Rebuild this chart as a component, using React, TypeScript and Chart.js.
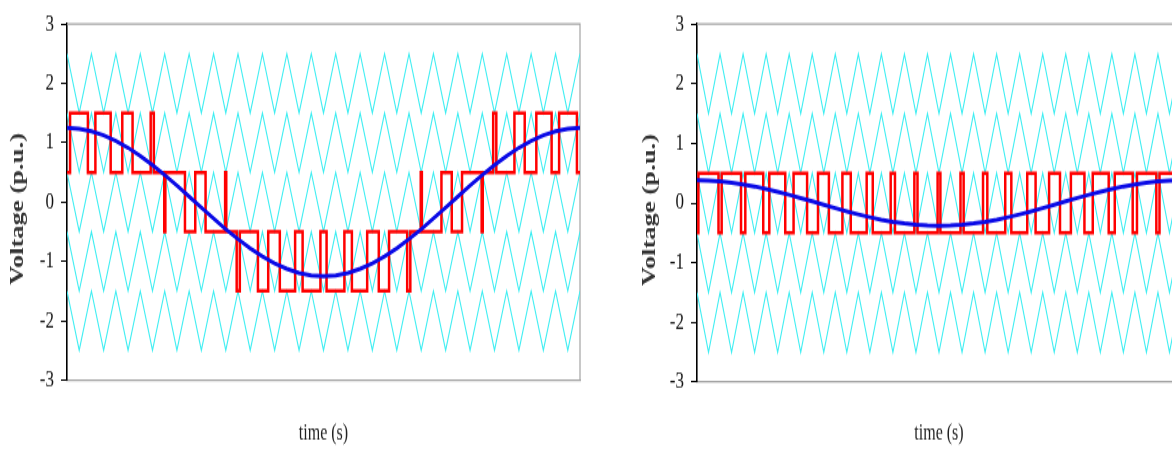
import React, { useEffect, useRef } from "react";
import { Chart, registerables } from "chart.js";

Chart.register(...registerables);

// ---------- data (time axis in carrier periods, 21 per panel) ----------
const carrierTimes = [
  0, 0.5, 1, 1.5, 2, 2.5, 3, 3.5, 4, 4.5, 5, 5.5, 6, 6.5, 7, 7.5, 8, 8.5, 9, 9.5, 10,
  10.5, 11, 11.5, 12, 12.5, 13, 13.5, 14, 14.5, 15, 15.5, 16, 16.5, 17, 17.5, 18, 18.5,
  19, 19.5, 20, 20.5, 21,
];
// peak of each level-shifted triangular carrier (valley = peak - 1)
const carrierPeaks = [2.5, 1.5, 0.5, -0.5, -1.5];

// reference (blue) samples at carrierTimes
const leftReference = [
  1.25, 1.236, 1.194, 1.126, 1.033, 0.916, 0.779, 0.625, 0.457, 0.278, 0.093, -0.093,
  -0.278, -0.457, -0.625, -0.779, -0.916, -1.033, -1.126, -1.194, -1.236, -1.25, -1.236,
  -1.194, -1.126, -1.033, -0.916, -0.779, -0.625, -0.457, -0.278, -0.093, 0.093, 0.278,
  0.457, 0.625, 0.779, 0.916, 1.033, 1.126, 1.194, 1.236, 1.25,
];
const rightReference = [
  0.38, 0.376, 0.363, 0.342, 0.314, 0.279, 0.237, 0.19, 0.139, 0.085, 0.028, -0.028,
  -0.085, -0.139, -0.19, -0.237, -0.279, -0.314, -0.342, -0.363, -0.376, -0.38, -0.376,
  -0.363, -0.342, -0.314, -0.279, -0.237, -0.19, -0.139, -0.085, -0.028, 0.028, 0.085,
  0.139, 0.19, 0.237, 0.279, 0.314, 0.342, 0.363, 0.376, 0.38,
];

// multilevel output (red): switching instants and level held after each
const leftSwitchTimes = [
  0, 0.126, 0.855, 1.162, 1.788, 2.263, 2.684, 3.426, 3.554, 3.982, 4.026, 4.829, 5.25,
  5.672, 6.473, 6.519, 6.946, 7.074, 7.816, 8.237, 8.712, 9.338, 9.645, 10.374, 10.626,
  11.355, 11.662, 12.288, 12.763, 13.184, 13.926, 14.054, 14.481, 14.527, 15.328, 15.75,
  16.171, 16.974, 17.018, 17.446, 17.574, 18.316, 18.737, 19.212, 19.838, 20.145, 20.874,
];
const leftLevels = [
  0.5, 1.5, 0.5, 1.5, 0.5, 1.5, 0.5, 1.5, 0.5, -0.5, 0.5, -0.5, 0.5, -0.5, 0.5, -0.5,
  -1.5, -0.5, -1.5, -0.5, -1.5, -0.5, -1.5, -0.5, -1.5, -0.5, -1.5, -0.5, -1.5, -0.5,
  -1.5, -0.5, 0.5, -0.5, 0.5, -0.5, 0.5, -0.5, 0.5, 1.5, 0.5, 1.5, 0.5, 1.5, 0.5, 1.5, 0.5,
];
const rightSwitchTimes = [
  0, 0.06, 0.933, 1.07, 1.91, 2.096, 2.874, 3.137, 3.829, 4.19, 4.777, 5.25, 5.723, 6.309,
  6.672, 7.362, 7.626, 8.404, 8.59, 9.431, 9.567, 10.44, 10.56, 11.433, 11.569, 12.41,
  12.596, 13.374, 13.638, 14.328, 14.691, 15.277, 15.75, 16.223, 16.81, 17.171, 17.863,
  18.126, 18.904, 19.09, 19.93, 20.067, 20.94,
];
const rightLevels = [
  -0.5, 0.5, -0.5, 0.5, -0.5, 0.5, -0.5, 0.5, -0.5, 0.5, -0.5, 0.5, -0.5, 0.5, -0.5, 0.5,
  -0.5, 0.5, -0.5, 0.5, -0.5, 0.5, -0.5, 0.5, -0.5, 0.5, -0.5, 0.5, -0.5, 0.5, -0.5, 0.5,
  -0.5, 0.5, -0.5, 0.5, -0.5, 0.5, -0.5, 0.5, -0.5, 0.5, -0.5,
];

const yTickValues = [3, 2, 1, 0, -1, -2, -3];
const xTitle = "time (s)";
const yTitle = "Voltage (p.u.)";
const timeEnd = 21;

// ---------- styling / layout ----------
const STRETCH = 1.4; // the source picture is stretched vertically
const CANVAS_H = 321;
const SERIF = "'Liberation Serif', 'Times New Roman', serif";
const CARRIER = "rgb(64, 238, 242)";
const RED = "#ff0000";
const BLUE = "#0a0ae6";
const FRAME = "#a4a4a4";

type PanelSpec = {
  left: number;
  width: number;
  plotLeft: number;
  plotRight: number;
  plotTop: number;
  plotBottom: number;
  titleX: number;
  titleY: number;
  reference: number[];
  switches: number[];
  levels: number[];
};

const panels: PanelSpec[] = [
  {
    left: 0, width: 630, plotLeft: 67, plotRight: 580, plotTop: 20, plotBottom: 380,
    titleX: 18.5, titleY: 209, reference: leftReference, switches: leftSwitchTimes, levels: leftLevels,
  },
  {
    left: 630, width: 600, plotLeft: 67, plotRight: 551, plotTop: 18, plotBottom: 382,
    titleX: 20, titleY: 210, reference: rightReference, switches: rightSwitchTimes, levels: rightLevels,
  },
];

function PanelChart({ p }: { p: PanelSpec }) {
  const ref = useRef<HTMLCanvasElement>(null);
  useEffect(() => {
    if (!ref.current) return;
    const carrierSets = carrierPeaks.map((peak) => ({
      data: carrierTimes.map((t, i) => ({ x: t, y: i % 2 === 0 ? peak : peak - 1 })),
      borderColor: CARRIER,
      borderWidth: 1.1,
      pointRadius: 0,
      order: 3,
    }));
    const redData = p.switches.map((t, i) => ({ x: t, y: p.levels[i] }));
    redData.push({ x: timeEnd, y: p.levels[p.levels.length - 1] });
    const blueData = carrierTimes.map((t, i) => ({ x: t, y: p.reference[i] }));

    const framePlugin = {
      id: "frame",
      beforeDatasetsDraw(chart: any) {
        const { ctx, chartArea: a } = chart;
        ctx.save();
        ctx.strokeStyle = FRAME;
        ctx.lineWidth = 1.2;
        ctx.beginPath();
        ctx.moveTo(a.left, a.top);
        ctx.lineTo(a.right, a.top);
        ctx.lineTo(a.right, a.bottom);
        ctx.stroke();
        ctx.restore();
      },
    };
    const yTitlePlugin = {
      id: "ytitle",
      afterDraw(chart: any) {
        const { ctx } = chart;
        ctx.save();
        ctx.translate(p.titleX, p.titleY / STRETCH);
        ctx.rotate(-Math.PI / 2);
        ctx.font = `bold 19px ${SERIF}`;
        ctx.fillStyle = "#333";
        ctx.textAlign = "center";
        ctx.textBaseline = "middle";
        ctx.fillText(yTitle, 0, 0);
        ctx.restore();
      },
    };

    const chart = new Chart(ref.current, {
      type: "line",
      data: {
        datasets: [
          {
            data: blueData,
            borderColor: BLUE,
            borderWidth: 3,
            pointRadius: 0,
            order: 0,
          },
          {
            data: redData,
            borderColor: RED,
            borderWidth: 2.5,
            pointRadius: 0,
            stepped: "before",
            order: 1,
          },
          ...carrierSets,
        ] as any,
      },
      options: {
        animation: false,
        responsive: true,
        maintainAspectRatio: false,
        devicePixelRatio: 1,
        parsing: false as any,
        elements: { line: { tension: 0 } },
        layout: {
          padding: {
            left: 0,
            top: p.plotTop / STRETCH,
            right: p.width - p.plotRight,
            bottom: 0,
          },
        },
        plugins: { legend: { display: false }, tooltip: { enabled: false } },
        scales: {
          x: {
            type: "linear",
            min: 0,
            max: timeEnd,
            ticks: { display: false },
            grid: { display: false },
            border: { display: true, color: FRAME, width: 1.2 },
            title: {
              display: true,
              text: xTitle,
              color: "#222",
              font: { family: SERIF, size: 16 },
              padding: { top: 0, bottom: 2 },
            },
            afterFit: (s: any) => {
              s.height = CANVAS_H - p.plotBottom / STRETCH;
            },
          },
          y: {
            type: "linear",
            min: -3,
            max: 3,
            afterBuildTicks: (s: any) => {
              s.ticks = yTickValues.map((v) => ({ value: v }));
            },
            ticks: {
              color: "#111",
              font: { family: SERIF, size: 17 },
              padding: 7,
              callback: (v: any) => String(v),
            },
            grid: { display: true, drawOnChartArea: false, drawTicks: true, tickLength: 6, color: "#000", lineWidth: 1 },
            border: { display: true, color: "#000", width: 1.6 },
            afterFit: (s: any) => {
              s.width = p.plotLeft;
            },
          },
        },
      },
      plugins: [framePlugin, yTitlePlugin],
    });
    return () => chart.destroy();
  }, [p]);

  return (
    <div
      style={{
        position: "absolute",
        left: p.left,
        top: 0,
        width: p.width,
        height: CANVAS_H,
        transform: `scaleY(${STRETCH})`,
        transformOrigin: "0 0",
      }}
    >
      <canvas ref={ref} />
    </div>
  );
}

export default function App() {
  return (
    <div
      style={{
        position: "fixed",
        left: 0,
        top: 0,
        width: 1172,
        height: 449,
        overflow: "hidden",
        background: "#fff",
      }}
    >
      {panels.map((p, i) => (
        <PanelChart key={i} p={p} />
      ))}
    </div>
  );
}
